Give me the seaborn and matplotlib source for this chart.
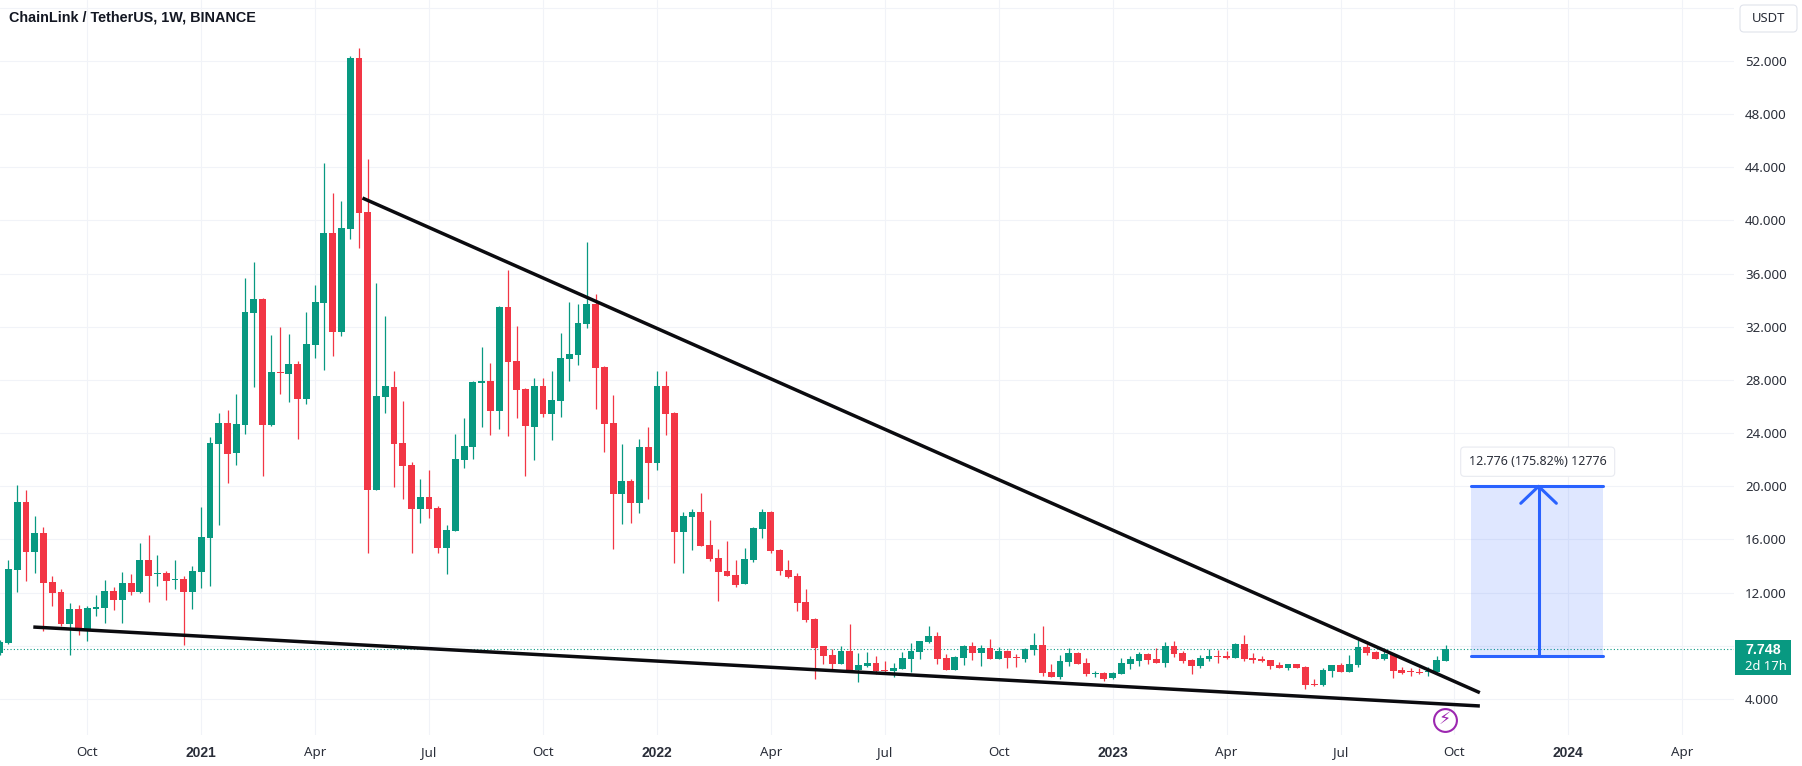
import numpy as np
import matplotlib
matplotlib.use("Agg")
import matplotlib.pyplot as plt
from matplotlib.patches import FancyBboxPatch, Rectangle
from matplotlib.transforms import IdentityTransform
import seaborn as sns

# Weekly LINK/USDT candles, 2020-07-27 to 2023-09-25
opens = [7.43, 8.19, 13.7, 18.82, 15.08, 16.46, 12.8, 12.05, 9.64, 10.77,
         9.24, 10.8, 10.84, 12.12, 11.45, 12.73, 12.05, 14.46, 13.4, 13.5,
         12.93, 13.0, 12.05, 13.55, 16.11, 23.18, 24.76, 22.5, 24.61, 33.06,
         34.09, 24.61, 28.6, 28.45, 29.2, 26.6, 30.63, 33.82, 39.06, 31.61,
         39.36, 52.25, 40.64, 19.72, 26.75, 27.47, 23.26, 21.6, 18.32, 19.2,
         18.37, 15.39, 16.66, 21.98, 22.98, 27.8, 27.93, 25.67, 33.49, 29.41,
         27.32, 24.46, 27.55, 25.44, 26.42, 29.58, 29.88, 32.21, 33.72, 28.98,
         24.77, 19.45, 20.4, 18.77, 22.96, 21.76, 27.55, 25.52, 16.59, 17.72,
         18.07, 15.58, 14.6, 13.62, 13.32, 12.64, 14.45, 16.78, 18.06, 15.2,
         13.7, 13.24, 11.29, 9.98, 7.95, 7.3, 6.62, 7.6, 6.17, 6.5,
         6.7, 6.17, 6.1, 6.25, 7.0, 7.53, 8.28, 8.73, 7.07, 6.17,
         7.07, 7.98, 7.45, 7.83, 7.0, 7.6, 7.15, 7.0, 7.68, 8.05,
         6.02, 5.65, 6.77, 7.45, 6.7, 5.85, 5.95, 5.54, 5.87, 6.62,
         6.85, 7.38, 7.0, 6.72, 7.98, 7.45, 6.93, 6.47, 7.0, 7.23,
         7.23, 7.08, 8.13, 7.08, 7.03, 6.9, 6.55, 6.32, 6.6, 6.4,
         5.12, 5.04, 6.1, 6.52, 6.02, 6.55, 7.9, 7.53, 7.0, 7.38,
         6.17, 6.07, 6.05, 6.02, 6.02, 6.85]
highs = [8.4, 14.46, 20.1, 19.72, 17.77, 16.96, 13.25, 12.3, 11.25, 11.07,
         11.0, 11.82, 12.95, 12.45, 13.55, 13.4, 15.76, 16.36, 14.83, 13.6,
         14.46, 13.25, 14.0, 18.47, 23.69, 25.52, 25.74, 26.95, 35.7, 36.9,
         34.2, 31.38, 31.96, 31.43, 29.45, 33.11, 35.12, 44.35, 42.04, 41.47,
         52.38, 52.98, 44.63, 35.27, 32.82, 28.68, 26.42, 21.86, 20.58, 21.23,
         18.55, 17.09, 23.91, 25.14, 27.93, 30.51, 29.3, 33.57, 36.28, 32.06,
         27.37, 28.15, 28.15, 28.68, 31.54, 33.87, 33.72, 38.36, 34.47, 29.05,
         26.87, 23.19, 20.55, 23.56, 24.46, 28.68, 28.68, 25.57, 18.07, 18.29,
         19.5, 17.47, 15.28, 15.9, 14.45, 15.35, 16.9, 18.26, 18.11, 15.28,
         14.45, 13.45, 12.27, 10.11, 7.95, 7.75, 7.95, 9.63, 7.45, 7.5,
         7.23, 6.82, 6.7, 7.53, 8.18, 8.35, 9.48, 9.0, 7.38, 7.2,
         8.08, 8.28, 8.05, 8.53, 7.88, 7.68, 7.38, 7.85, 8.93, 9.48,
         6.62, 7.3, 7.8, 7.5, 7.07, 6.12, 6.02, 6.02, 7.07, 7.23,
         7.53, 7.45, 7.83, 8.25, 8.38, 7.63, 6.98, 7.3, 7.73, 7.7,
         7.6, 8.23, 8.83, 7.43, 7.23, 6.95, 6.77, 6.62, 6.62, 6.45,
         5.5, 6.3, 6.55, 6.72, 7.3, 8.43, 8.13, 7.63, 7.85, 7.48,
         6.42, 6.3, 6.32, 6.4, 7.23, 8.05]
lows = [7.3, 8.1, 12.07, 12.88, 13.5, 9.14, 11.0, 9.49, 7.31, 8.81,
        8.39, 10.24, 9.74, 10.7, 9.74, 11.82, 11.95, 11.3, 12.5, 11.45,
        12.27, 8.06, 10.77, 12.37, 12.5, 17.09, 20.27, 21.6, 23.94, 27.5,
        20.78, 24.5, 26.95, 26.37, 23.59, 26.2, 29.63, 28.75, 29.8, 31.33,
        38.6, 37.93, 15.0, 19.7, 25.5, 19.97, 19.07, 14.98, 17.27, 17.62,
        15.01, 13.4, 16.6, 21.4, 22.08, 24.49, 23.86, 24.31, 23.79, 25.12,
        20.78, 21.98, 25.24, 23.49, 25.22, 27.93, 29.13, 31.91, 25.79, 22.58,
        15.29, 17.17, 17.24, 18.02, 19.02, 21.23, 23.86, 14.26, 13.45, 15.21,
        15.5, 14.4, 11.37, 13.25, 12.44, 12.64, 14.3, 16.08, 14.95, 13.32,
        13.07, 10.61, 9.81, 5.49, 6.62, 6.12, 6.62, 6.17, 5.27, 6.37,
        5.87, 5.87, 5.67, 6.25, 6.02, 6.97, 8.23, 6.62, 6.17, 6.17,
        6.55, 6.92, 6.47, 7.0, 7.0, 6.3, 6.37, 6.77, 7.3, 5.72,
        5.65, 5.49, 6.47, 6.62, 5.72, 5.62, 5.34, 5.49, 5.87, 6.25,
        6.47, 6.62, 6.7, 6.42, 7.18, 6.67, 5.87, 6.32, 6.87, 6.72,
        7.03, 7.08, 6.85, 6.72, 6.77, 6.22, 6.3, 6.2, 6.32, 4.74,
        5.0, 4.97, 5.65, 6.02, 6.02, 6.4, 7.3, 7.0, 6.93, 5.57,
        5.87, 5.72, 5.87, 5.72, 6.02, 6.85]
closes = [8.31, 13.78, 18.82, 15.08, 16.46, 12.75, 12.0, 9.64, 10.77, 9.31,
          10.84, 10.9, 12.12, 11.45, 12.73, 12.05, 14.46, 13.25, 13.5, 12.88,
          13.03, 12.05, 13.63, 16.19, 23.26, 24.76, 22.43, 24.69, 33.11, 34.09,
          24.61, 28.6, 28.5, 29.2, 26.6, 30.7, 33.87, 39.06, 31.61, 39.43,
          52.25, 40.59, 19.75, 26.8, 27.55, 23.21, 21.55, 18.32, 19.2, 18.32,
          15.39, 16.71, 22.06, 23.03, 27.85, 27.9, 25.67, 33.49, 29.36, 27.25,
          24.54, 27.55, 25.44, 26.5, 29.66, 29.96, 32.29, 33.72, 28.9, 24.69,
          19.45, 20.4, 18.77, 22.96, 21.76, 27.55, 25.44, 16.59, 17.77, 18.07,
          15.54, 14.53, 13.55, 13.25, 12.57, 14.53, 16.86, 18.06, 15.13, 13.65,
          13.14, 11.24, 9.93, 7.85, 7.23, 6.62, 7.6, 6.17, 6.55, 6.72,
          6.1, 6.07, 6.32, 7.07, 7.6, 8.35, 8.73, 7.0, 6.17, 7.15,
          7.98, 7.45, 7.83, 7.0, 7.6, 7.07, 7.05, 7.75, 8.05, 5.95,
          5.65, 6.85, 7.45, 6.62, 5.87, 5.95, 5.49, 5.92, 6.7, 7.0,
          7.38, 6.92, 6.7, 7.98, 7.38, 6.85, 6.47, 7.08, 7.23, 7.15,
          7.08, 8.13, 7.0, 6.93, 6.88, 6.47, 6.32, 6.6, 6.32, 5.04,
          5.04, 6.17, 6.52, 6.02, 6.62, 7.9, 7.45, 7.0, 7.38, 6.1,
          5.95, 6.0, 5.97, 6.12, 6.93, 7.748]

x_labels = ["Oct", "2021", "Apr", "Jul", "Oct", "2022", "Apr", "Jul", "Oct",
            "2023", "Apr", "Jul", "Oct", "2024", "Apr"]
x_ticks = [10, 23, 36, 49, 62, 75, 88, 101, 114, 127, 140, 153, 166, 179, 192]
y_ticks = [4, 8, 12, 16, 20, 24, 28, 32, 36, 40, 44, 48, 52, 56]

# trend lines: (week, price) of both ends
upper_line_x, upper_line_y = [41.4, 168.9], [41.69, 4.47]
lower_line_x, lower_line_y = [3.84, 168.9], [9.41, 3.47]

last_price = 7.748
target_low, target_high = 7.224, 20.0
target_left, target_right, target_mid = 168.0, 183.1, 175.6

GREEN = "#089981"
RED = "#F23645"
BLUE = "#2962FF"
GRID = "#F1F3F8"
TEXT = "#2A2E39"
PURPLE = "#9C27B0"
BOLD_FONT = "Liberation Sans"

sns.set_theme(style="white")
plt.rcParams['font.family'] = ['Noto Sans', 'DejaVu Sans']

opens = np.array(opens)
closes = np.array(closes)
highs = np.array(highs)
lows = np.array(lows)
weeks = np.arange(len(opens))
up = closes >= opens

fig = plt.figure(figsize=(18.02, 7.66), dpi=100)
ax = fig.add_axes([0, 31 / 766, 1734 / 1802, 735 / 766])

# Bodies
sns.barplot(x=weeks[up], y=(closes - opens)[up], bottom=opens[up], native_scale=True,
            color=GREEN, saturation=1, width=0.78, errorbar=None, linewidth=0, ax=ax, zorder=3)
sns.barplot(x=weeks[~up], y=(opens - closes)[~up], bottom=closes[~up], native_scale=True,
            color=RED, saturation=1, width=0.78, errorbar=None, linewidth=0, ax=ax, zorder=3)
# Wicks
ax.vlines(weeks[up], lows[up], highs[up], color=GREEN, lw=0.9, zorder=2.5)
ax.vlines(weeks[~up], lows[~up], highs[~up], color=RED, lw=0.9, zorder=2.5)

ax.set_xlim(0.04, 197.9)
ax.set_ylim(1.286, 56.59)
ax.set_xlabel("")
ax.set_ylabel("")

ax.set_xticks(x_ticks)
ax.set_xticklabels(x_labels, fontsize=9.6, color=TEXT)
for lab in ax.get_xticklabels():
    if lab.get_text().isdigit():
        lab.set_family(BOLD_FONT)
        lab.set_fontweight("bold")
        lab.set_fontsize(10)
ax.set_yticks(y_ticks)
ax.set_yticklabels(["" if v == 56 else f"{v}.000" for v in y_ticks], fontsize=9.6, color=TEXT)
ax.yaxis.tick_right()
ax.tick_params(axis="x", length=0, pad=8)
ax.tick_params(axis="y", length=0, pad=8)
ax.grid(True, color=GRID, lw=0.8)
ax.set_axisbelow(True)
sns.despine(ax=ax, left=True, right=True, top=True, bottom=True)

# Last price line
ax.axhline(last_price, color=GREEN, lw=0.8, ls=(0, (1, 2)), zorder=2)

# Trend lines
ax.plot(upper_line_x, upper_line_y, color="#0B0B0F", lw=2.5, zorder=5, solid_capstyle="butt")
ax.plot(lower_line_x, lower_line_y, color="#0B0B0F", lw=2.5, zorder=5, solid_capstyle="butt")

# Price range tool
ax.add_patch(Rectangle((target_left - 0.1, target_low), target_right - target_left,
                       target_high - target_low, facecolor=BLUE, alpha=0.15, lw=0, zorder=4))
ax.plot([target_left - 0.1, target_right - 0.1], [target_high, target_high], color=BLUE, lw=2.2, zorder=6)
ax.plot([target_left - 0.1, target_right - 0.1], [target_low, target_low], color=BLUE, lw=2.2, zorder=6)
ax.plot([target_mid, target_mid], [target_low, target_high], color=BLUE, lw=2.2, zorder=6)
ax.plot([target_mid - 2.03, target_mid, target_mid + 2.03],
        [target_high - 1.28, target_high, target_high - 1.28], color=BLUE, lw=2.2, zorder=6)
ax.text(175.5, 21.85, "12.776 (175.82%) 12776", ha="center", va="center", fontsize=9.0,
        color=TEXT, zorder=8,
        bbox=dict(boxstyle="round,pad=0.65,rounding_size=0.3", facecolor="white", edgecolor="#E8EAF0", lw=0.8))

# Ideas marker under last candle
ax.scatter([164.9], [2.45], s=270, facecolor="white", edgecolor=PURPLE, lw=1.5, zorder=7)
ax.text(164.9, 2.45, "\u26a1", family="DejaVu Sans", color=PURPLE, fontsize=12.5,
        ha="center", va="center", zorder=8)

# Things outside the axes, placed in pixels
fig.text(9 / 1802, 1 - 18 / 766, "ChainLink / TetherUS, 1W, BINANCE", fontsize=10.4,
         family=BOLD_FONT, fontweight="bold", color="#131722", va="center", ha="left")

fig.add_artist(FancyBboxPatch((1740, 766 - 32), 57, 27, boxstyle="round,pad=0,rounding_size=4",
                              facecolor="white", edgecolor="#E0E3EB", lw=0.8,
                              transform=IdentityTransform()))
fig.text(1768.5 / 1802, 1 - 19 / 766, "USDT", fontsize=9.4, color=TEXT, ha="center", va="center")

fig.add_artist(Rectangle((1735, 766 - 675), 56, 35, facecolor=GREEN, lw=0, transform=IdentityTransform()))
fig.text(1745 / 1802, 1 - 650 / 766, "7.748", fontsize=10.2, family=BOLD_FONT, fontweight="bold",
         color="white", va="center")
fig.text(1745 / 1802, 1 - 666 / 766, "2d 17h", fontsize=9.4, color="white", va="center")

fig.savefig("out.png", dpi=100, facecolor="white")
